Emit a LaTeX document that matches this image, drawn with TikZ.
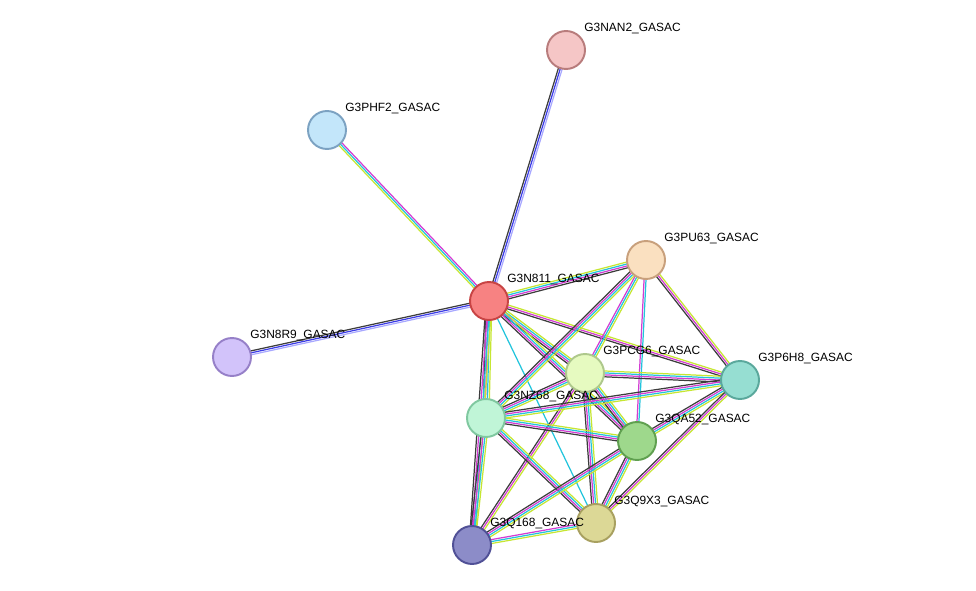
\documentclass[tikz,border=0pt]{standalone}
\usepackage{fontspec}
\setmainfont{Liberation Sans}
\usetikzlibrary{calc}
\definecolor{ygr}{HTML}{C6E632}
\definecolor{cya}{HTML}{22C4DC}
\definecolor{mag}{HTML}{D23CD2}
\definecolor{blk}{HTML}{3C3C3C}
\definecolor{blu}{HTML}{3C3CE6}
\definecolor{lav}{HTML}{A8A8FF}
\newcommand\stredge[4]{%
  \foreach \c [count=\i] in {#4} {
    \pgfmathsetmacro\off{(\i-(#3+1)/2)*1.1}
    \draw[\c, line width=0.7pt] ($(#1)!\off pt!90:(#2)$) -- ($(#2)!\off pt!-90:(#1)$);
  }}
\tikzset{
  prot/.style 2 args={circle, minimum size=0.76cm, inner sep=0pt, line width=1.1pt, fill=#1, draw=#2},
  lbl/.style={anchor=west, font=\fontsize{6.8}{8}\selectfont, inner sep=0pt}
}
\begin{document}
\begin{tikzpicture}[x=0.02cm, y=-0.02cm]
  \useasboundingbox (0,0) rectangle (976,591);
  \coordinate (NAN2) at (566,50);
  \coordinate (PHF2) at (327,130);
  \coordinate (N811) at (489,301);
  \coordinate (N8R9) at (232,357);
  \coordinate (PU63) at (646,260);
  \coordinate (PCG6) at (585,373);
  \coordinate (P6H8) at (740,380);
  \coordinate (NZ68) at (486,418);
  \coordinate (QA52) at (637,441);
  \coordinate (Q9X3) at (596,523);
  \coordinate (Q168) at (472,545);
  % edges
  \stredge{N811}{NAN2}{3}{lav,blu,blk}
  \stredge{N811}{PHF2}{3}{mag,cya,ygr}
  \stredge{N811}{N8R9}{3}{blk,blu,lav}
  \stredge{N811}{PU63}{4}{blk,mag,cya,ygr}
  \stredge{N811}{PCG6}{4}{blk,mag,cya,ygr}
  \stredge{N811}{P6H8}{3}{blk,mag,ygr}
  \stredge{N811}{NZ68}{4}{blk,mag,cya,ygr}
  \stredge{N811}{QA52}{4}{blk,mag,cya,ygr}
  \stredge{N811}{Q9X3}{1}{cya}
  \stredge{N811}{Q168}{4}{blk,mag,cya,ygr}
  \stredge{PU63}{PCG6}{3}{mag,cya,ygr}
  \stredge{PU63}{P6H8}{3}{blk,mag,ygr}
  \stredge{PU63}{NZ68}{4}{blk,mag,cya,ygr}
  \stredge{PU63}{QA52}{2}{mag,cya}
  \stredge{PCG6}{P6H8}{4}{blk,mag,cya,ygr}
  \stredge{PCG6}{NZ68}{4}{blk,mag,cya,ygr}
  \stredge{PCG6}{QA52}{4}{blk,mag,cya,ygr}
  \stredge{PCG6}{Q9X3}{4}{blk,mag,cya,ygr}
  \stredge{PCG6}{Q168}{3}{blk,mag,ygr}
  \stredge{P6H8}{NZ68}{4}{blk,mag,cya,ygr}
  \stredge{P6H8}{QA52}{4}{blk,mag,cya,ygr}
  \stredge{P6H8}{Q9X3}{3}{blk,mag,ygr}
  \stredge{NZ68}{QA52}{4}{blk,mag,cya,ygr}
  \stredge{NZ68}{Q9X3}{4}{blk,mag,cya,ygr}
  \stredge{NZ68}{Q168}{4}{blk,mag,cya,ygr}
  \stredge{QA52}{Q9X3}{4}{blk,mag,cya,ygr}
  \stredge{QA52}{Q168}{4}{blk,mag,cya,ygr}
  \stredge{Q9X3}{Q168}{3}{mag,cya,ygr}
  % proteins
  \foreach \n/\f/\d in {NAN2/F5C6C6/B87C7C, PHF2/C3E6FA/7CA2C2, N811/F78282/C84444,
      N8R9/D2C3FA/9680C8, PU63/FAE0C0/C8A07C, PCG6/E6FAC0/AEC88C, P6H8/96DED2/5AA89C,
      NZ68/C0F5D7/80C8A0, QA52/9ED88C/60A050, Q9X3/DCD896/A8A060, Q168/8C8CC8/505096} {
    \definecolor{f\n}{HTML}{\f}\definecolor{d\n}{HTML}{\d}
    \node[prot={f\n}{d\n}] (p\n) at (\n) {};
    \node[lbl] (l\n) at ($(\n)+(18,-21)$) {G3\n\_GASAC};
  }
\end{tikzpicture}
\end{document}
